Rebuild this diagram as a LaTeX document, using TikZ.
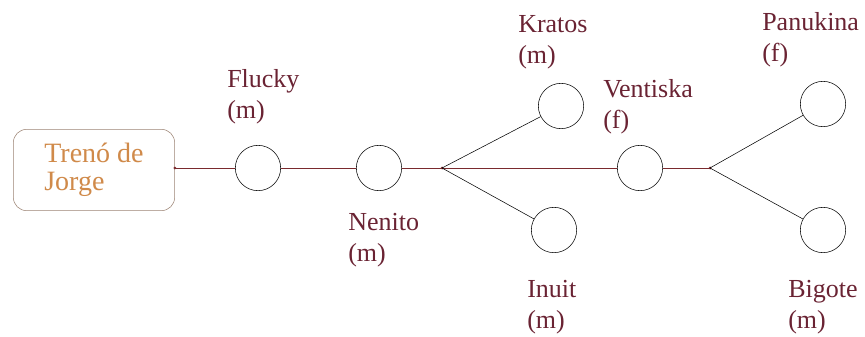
\documentclass[tikz,border=0pt]{standalone}
\usepackage{fontspec}
\setmainfont{Liberation Serif}
\usepackage{tikz}

\definecolor{trenline}{HTML}{7A2A2E}
\definecolor{namecol}{HTML}{6A2333}
\definecolor{trenotext}{HTML}{D08A4A}
\definecolor{boxline}{HTML}{9C8474}

\begin{document}
\begin{tikzpicture}[x = 0.75pt, y = -0.75pt,
    perro/.style = {draw, circle, thin, minimum size = 34pt, inner sep = 0pt},
    nombre/.style = {anchor = base west, align = left, inner sep = 0pt,
                     text = namecol, font = \fontsize{19.5}{23}\selectfont}]
\useasboundingbox (0, 0) rectangle (865, 336);

% the sled and the dogs
\node[draw = boxline, fill = white, rounded corners = 10pt,
      minimum width = 121pt, minimum height = 61pt,
      text = trenotext, align = left, font = \fontsize{21}{21}\selectfont]
      (treno) at (94, 170) {Trenó de\\Jorge};
\node[perro] (flucky)   at (258, 168) {};
\node[perro] (nenito)   at (379, 168) {};
\node[perro] (kratos)   at (561, 106) {};
\node[perro] (inuit)    at (554, 230) {};
\node[perro] (ventiska) at (640, 168) {};
\node[perro] (panukina) at (823, 104) {};
\node[perro] (bigote)   at (823, 230) {};
\coordinate (split1) at (442, 168);
\coordinate (split2) at (710, 168);

% main line
\draw [color = trenline, semithick] (treno.east |- flucky) -- (flucky.west);
\draw [color = trenline, semithick] (flucky.east) -- (nenito.west);
\draw [color = trenline, semithick] (nenito.east) -- (split1);
\draw [color = trenline, semithick] (split1) -- (ventiska.west);
\draw [color = trenline, semithick] (ventiska.east) -- (split2);
\fill [color = trenline] (treno.east |- flucky) circle (1.5);
\fill [color = trenline] (split1) circle (1.5);
\fill [color = trenline] (split2) circle (1.5);

% branches
\draw (split1) -- (kratos);
\draw (split1) -- (inuit);
\draw (split2) -- (panukina);
\draw (split2) -- (bigote);

% names (base is the second line)
\node[nombre] (lflucky)   at (227, 118) {Flucky\\(m)};
\node[nombre] (lnenito)   at (348, 261) {Nenito\\(m)};
\node[nombre] (lkratos)   at (518, 63)  {Kratos\\(m)};
\node[nombre] (lventiska) at (603, 128) {Ventiska\\(f)};
\node[nombre] (linuit)    at (527, 328) {Inuit\\(m)};
\node[nombre] (lpanukina) at (762, 61)  {Panukina\\(f)};
\node[nombre] (lbigote)   at (788, 328) {Bigote\\(m)};
\end{tikzpicture}
\end{document}
